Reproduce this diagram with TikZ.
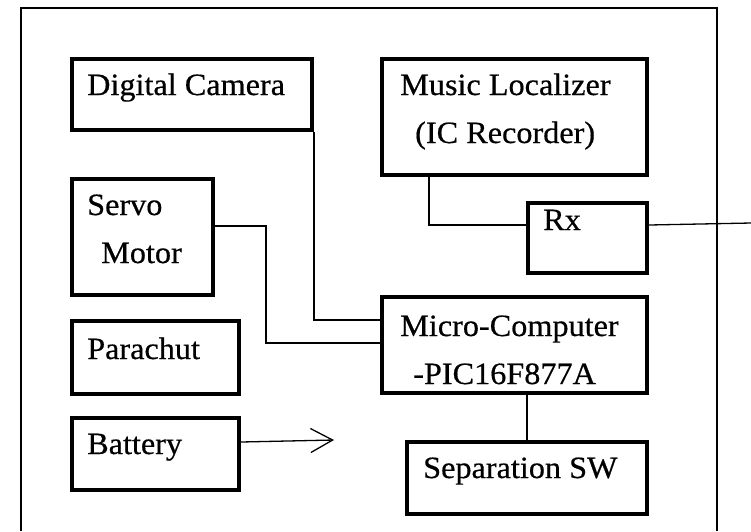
\documentclass[tikz,border=0pt]{standalone}
\usepackage{fontspec}
\setmainfont{Liberation Serif}[FakeStretch=1.04, FakeBold=0.5]
\usepackage{tikz}
\usetikzlibrary{arrows.meta, positioning, calc}

\begin{document}
\begin{tikzpicture}[
  x=1pt, y=-1pt,
  blk/.style={draw, line width=4pt, anchor=north west, inner sep=0pt},
  txt/.style={anchor=base west, inner sep=0pt, font=\fontsize{31}{37}\selectfont},
  wire/.style={line width=1.3pt},
  feed/.style={wire, -{Straight Barb[length=22pt, width=24pt, line width=1.3pt]}}
]
  \useasboundingbox (0,0) rectangle (751,531);

  % outer frame, open at the bottom
  \draw[line width=1.6pt] (21,531) -- (21,8) -- (717,8) -- (717,531);

  % blocks
  \node[blk, minimum width=240pt, minimum height=71pt]  (cam)   at (70,57)  {};
  \node[blk, minimum width=265pt, minimum height=116pt] (music) at (380,57) {};
  \node[blk, minimum width=119pt, minimum height=70pt]  (rx)    at (526,201) {};
  \node[blk, minimum width=141pt, minimum height=116pt] (servo) at (70,177) {};
  \node[blk, minimum width=265pt, minimum height=96pt]  (micro) at (380,295) {};
  \node[blk, minimum width=167pt, minimum height=73pt]  (para)  at (70,319) {};
  \node[blk, minimum width=167pt, minimum height=72pt]  (bat)   at (70,416) {};
  \node[blk, minimum width=240pt, minimum height=72pt]  (sep)   at (405,440) {};

  % labels
  \node[txt] (camTxt)    at (87,95)   {Digital Camera};
  \node[txt] (musicTxt)  at (400,95)  {Music Localizer};
  \node[txt] (musicTxt2) at (415,143) {(IC Recorder)};
  \node[txt] (rxTxt)     at (543,230) {Rx};
  \node[txt] (servoTxt)  at (87,215)  {Servo};
  \node[txt] (servoTxt2) at (101,263) {Motor};
  \node[txt] (microTxt)  at (400,336) {Micro-Computer};
  \node[txt] (microTxt2) at (413,384) {-PIC16F877A};
  \node[txt] (paraTxt)   at (87,359)  {Parachut};
  \node[txt] (batTxt)    at (87,454)  {Battery};
  \node[txt] (sepTxt)    at (423,478) {Separation SW};

  \coordinate (rxOut) at (751,223);
  \coordinate (batTip) at (334,440);

  % wiring
  \draw[wire] (cam.south east) |- ([yshift=-25pt]micro.north west);
  \draw[wire] ([yshift=11pt]servo.east) -- ++(51,0) |- ([yshift=-48pt]micro.north west);
  \draw[wire] ([xshift=49pt]music.south west) |- ([yshift=13pt]rx.west);
  \draw[wire] ([yshift=13pt]rx.east) -- (rxOut);
  \draw[wire] (sep.north) -- (sep.north |- micro.south);
  \draw[feed] ([yshift=12pt]bat.east) -- (batTip);
\end{tikzpicture}
\end{document}
